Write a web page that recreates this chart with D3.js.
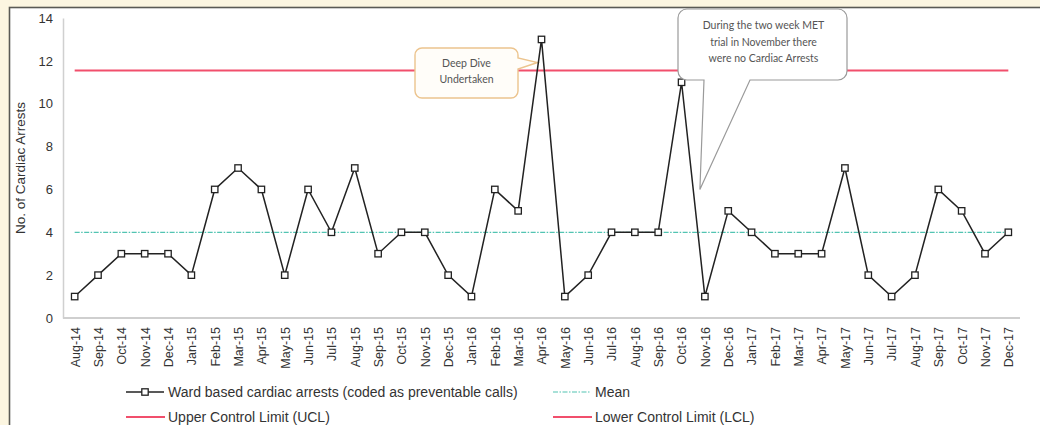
<!DOCTYPE html>
<html>
<head>
<meta charset="utf-8">
<script src="https://cdn.jsdelivr.net/npm/d3@7/dist/d3.min.js"></script>
<style>
  html, body { margin: 0; padding: 0; background: #fcf6e1; }
  svg { display: block; }
  text { font-family: "Liberation Sans", Arial, sans-serif; fill: #333; }
  .note text { font-family: Lato, "Open Sans", sans-serif; fill: #555; }
</style>
</head>
<body>
<svg id="chart" width="1040" height="425"></svg>
<script>
// Monthly ward-based cardiac arrests, Aug 2014 – Dec 2017
const months = [
  "Aug-14","Sep-14","Oct-14","Nov-14","Dec-14",
  "Jan-15","Feb-15","Mar-15","Apr-15","May-15","Jun-15","Jul-15","Aug-15","Sep-15","Oct-15","Nov-15","Dec-15",
  "Jan-16","Feb-16","Mar-16","Apr-16","May-16","Jun-16","Jul-16","Aug-16","Sep-16","Oct-16","Nov-16","Dec-16",
  "Jan-17","Feb-17","Mar-17","Apr-17","May-17","Jun-17","Jul-17","Aug-17","Sep-17","Oct-17","Nov-17","Dec-17"
];
const arrests = [
  1, 2, 3, 3, 3,
  2, 6, 7, 6, 2, 6, 4, 7, 3, 4, 4, 2,
  1, 6, 5, 13, 1, 2, 4, 4, 4, 11, 1, 5,
  4, 3, 3, 3, 7, 2, 1, 2, 6, 5, 3, 4
];
const meanValue = 4.0;
const uclValue = 11.55;
const lclValue = -3.55;
const yTicks = [0, 2, 4, 6, 8, 10, 12, 14];

const seriesLabels = {
  arrests: "Ward based cardiac arrests (coded as preventable calls)",
  mean: "Mean",
  ucl: "Upper Control Limit (UCL)",
  lcl: "Lower Control Limit (LCL)"
};
const deepDiveNote = ["Deep Dive", "Undertaken"];
const metNote = ["During the two week MET", "trial in November there", "were no Cardiac Arrests"];

const RED = "#f14f6c";
const TEAL = "#52c4b2";

const svg = d3.select("#chart");

// framed white panel
svg.append("rect")
  .attr("x", 9.5).attr("y", 7.5)
  .attr("width", 1060).attr("height", 440)
  .attr("fill", "#ffffff")
  .attr("stroke", "#5a5a55").attr("stroke-width", 1.6);

const plot = { left: 63, right: 1020, top: 18, bottom: 318 };

const x = d3.scalePoint().domain(months).range([plot.left, plot.right]).padding(0.5);
const y = d3.scaleLinear().domain([0, 14]).range([plot.bottom, plot.top]);

svg.append("clipPath").attr("id", "plotClip")
  .append("rect")
  .attr("x", plot.left).attr("y", plot.top - 6)
  .attr("width", plot.right - plot.left).attr("height", plot.bottom - plot.top + 6);

// y axis
const yAxis = svg.append("g")
  .attr("transform", `translate(${plot.left},0)`)
  .call(d3.axisLeft(y).tickValues(yTicks).tickSize(0).tickPadding(10));
yAxis.select(".domain").attr("stroke", "#d0d0d0").attr("stroke-width", 1.5);
yAxis.selectAll("text").style("font-size", "13px").attr("fill", "#333");

// x axis
const xAxis = svg.append("g")
  .attr("transform", `translate(0,${plot.bottom})`)
  .call(d3.axisBottom(x).tickSize(0).tickSizeOuter(0));
xAxis.select(".domain").attr("stroke", "#cfcfcf").attr("stroke-width", 2)
  .attr("d", `M${plot.left},0H${plot.right}`);
xAxis.selectAll("text")
  .style("font-size", "12.5px")
  .attr("text-anchor", "end")
  .attr("transform", "rotate(-90)")
  .attr("x", -9).attr("y", 0).attr("dy", "0.35em")
  .attr("fill", "#333");

// y axis title
svg.append("text")
  .attr("transform", `translate(25,168) rotate(-90)`)
  .attr("text-anchor", "middle")
  .style("font-size", "13.5px")
  .text("No. of Cardiac Arrests");

const first = x(months[0]), last = x(months[months.length - 1]);
const lines = svg.append("g").attr("clip-path", "url(#plotClip)");

// control limits and mean
lines.append("line")
  .attr("x1", first).attr("x2", last)
  .attr("y1", y(uclValue)).attr("y2", y(uclValue))
  .attr("stroke", RED).attr("stroke-width", 2.2);
lines.append("line")
  .attr("x1", first).attr("x2", last)
  .attr("y1", y(lclValue)).attr("y2", y(lclValue))
  .attr("stroke", RED).attr("stroke-width", 2.2);
lines.append("line")
  .attr("x1", first).attr("x2", last)
  .attr("y1", y(meanValue)).attr("y2", y(meanValue))
  .attr("stroke", TEAL).attr("stroke-width", 1.2)
  .attr("stroke-dasharray", "5,1.5,1.5,1.5");

// callout: Deep Dive
const deepTipX = x("Apr-16") - 4, deepTipY = y(uclValue) - 8;
const deep = svg.append("g").attr("class", "note");
{
  const x0 = 415, x1 = 518, y0 = 48, y1 = 98, r = 7;
  const p = d3.path();
  p.moveTo(x0 + r, y0);
  p.lineTo(x1 - r, y0);
  p.arcTo(x1, y0, x1, y0 + r, r);
  p.lineTo(x1, 58);
  p.lineTo(deepTipX, deepTipY);
  p.lineTo(x1, 69);
  p.lineTo(x1, y1 - r);
  p.arcTo(x1, y1, x1 - r, y1, r);
  p.lineTo(x0 + r, y1);
  p.arcTo(x0, y1, x0, y1 - r, r);
  p.lineTo(x0, y0 + r);
  p.arcTo(x0, y0, x0 + r, y0, r);
  p.closePath();
  deep.append("path").attr("d", p.toString())
    .attr("fill", "#fffdf9").attr("stroke", "#ecc48e").attr("stroke-width", 1.4);
  deep.selectAll("text").data(deepDiveNote).join("text")
    .attr("x", (x0 + x1) / 2).attr("y", (d, i) => 67 + i * 16)
    .attr("text-anchor", "middle")
    .style("font-size", "10.5px")
    .text(d => d);
}

// data series
const line = d3.line().x((d, i) => x(months[i])).y(d => y(d));
svg.append("path")
  .datum(arrests)
  .attr("d", line)
  .attr("fill", "none").attr("stroke", "#222").attr("stroke-width", 1.5);

svg.append("g").selectAll("rect")
  .data(arrests).join("rect")
  .attr("x", (d, i) => x(months[i]) - 3.2)
  .attr("y", d => y(d) - 3.2)
  .attr("width", 6.4).attr("height", 6.4)
  .attr("fill", "#fff").attr("stroke", "#222").attr("stroke-width", 1.3);

// callout: MET trial
const metTipX = x("Nov-16") - 5, metTipY = y(6);
const met = svg.append("g").attr("class", "note");
{
  const x0 = 678, x1 = 847, y0 = 9, y1 = 80, r = 9;
  const p = d3.path();
  p.moveTo(x0 + r, y0);
  p.lineTo(x1 - r, y0);
  p.arcTo(x1, y0, x1, y0 + r, r);
  p.lineTo(x1, y1 - r);
  p.arcTo(x1, y1, x1 - r, y1, r);
  p.lineTo(750, y1);
  p.lineTo(metTipX, metTipY);
  p.lineTo(704, y1);
  p.lineTo(x0 + r, y1);
  p.arcTo(x0, y1, x0, y1 - r, r);
  p.lineTo(x0, y0 + r);
  p.arcTo(x0, y0, x0 + r, y0, r);
  p.closePath();
  met.append("path").attr("d", p.toString())
    .attr("fill", "#ffffff").attr("stroke", "#9a9a9a").attr("stroke-width", 1.2);
  met.selectAll("text").data(metNote).join("text")
    .attr("x", (x0 + x1) / 2 + 1).attr("y", (d, i) => 29 + i * 16.5)
    .attr("text-anchor", "middle")
    .style("font-size", "10.5px")
    .text(d => d);
}

// legend
const legend = svg.append("g").style("font-size", "14px");
const legendItems = [
  { key: "arrests", x: 126, y: 392, type: "marker" },
  { key: "mean", x: 553, y: 392, type: "mean" },
  { key: "ucl", x: 126, y: 417, type: "limit" },
  { key: "lcl", x: 553, y: 417, type: "limit" }
];
legendItems.forEach(it => {
  const g = legend.append("g").attr("transform", `translate(${it.x},${it.y})`);
  if (it.type === "marker") {
    g.append("line").attr("x1", 0).attr("x2", 38).attr("y1", 0).attr("y2", 0)
      .attr("stroke", "#222").attr("stroke-width", 1.5);
    g.append("rect").attr("x", 15.8).attr("y", -3.2).attr("width", 6.4).attr("height", 6.4)
      .attr("fill", "#fff").attr("stroke", "#222").attr("stroke-width", 1.3);
  } else if (it.type === "mean") {
    g.append("line").attr("x1", 0).attr("x2", 38).attr("y1", 0).attr("y2", 0)
      .attr("stroke", TEAL).attr("stroke-width", 1.2)
      .attr("stroke-dasharray", "5,1.5,1.5,1.5");
  } else {
    g.append("line").attr("x1", 0).attr("x2", 39).attr("y1", 0).attr("y2", 0)
      .attr("stroke", RED).attr("stroke-width", 2);
  }
  g.append("text").attr("x", 42).attr("y", 0).attr("dy", "0.35em")
    .text(seriesLabels[it.key]);
});
</script>
</body>
</html>
